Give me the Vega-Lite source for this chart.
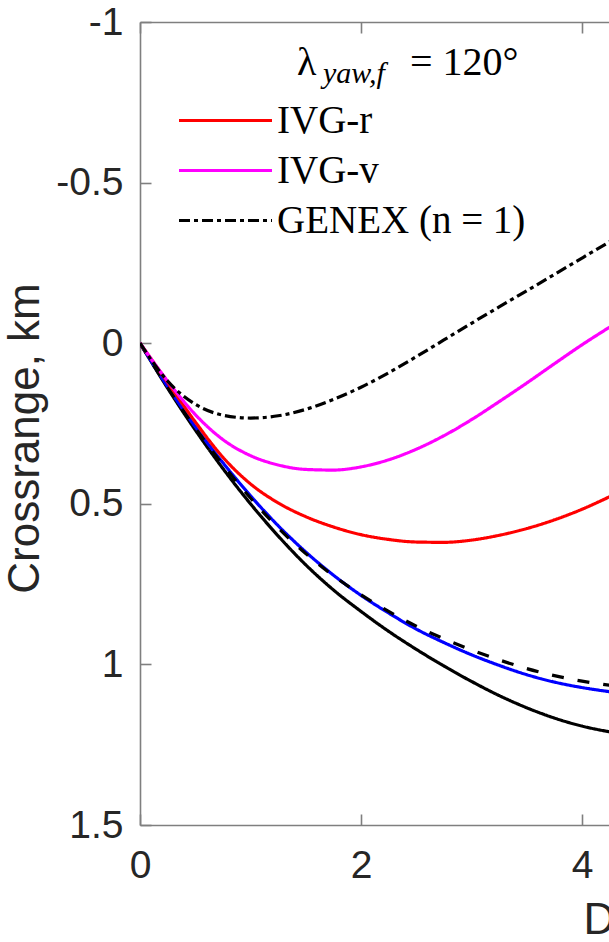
{
  "$schema": "https://vega.github.io/schema/vega-lite/v6.json",
  "width": 469,
  "height": 803,
  "autosize": {"type": "none"},
  "padding": {"left": 140, "top": 22, "right": 0, "bottom": 117},
  "background": "white",
  "config": {
    "view": {"stroke": null},
    "axis": {
      "grid": false,
      "domainColor": "#7f7f7f",
      "domainWidth": 1.6,
      "tickColor": "#7f7f7f",
      "tickWidth": 1.6,
      "tickSize": -11,
      "labelFont": "Liberation Sans",
      "labelFontSize": 39,
      "labelColor": "#262626",
      "labelFlush": false,
      "labelOverlap": false,
      "labelBound": false,
      "titleFont": "Liberation Sans",
      "titleFontSize": 44,
      "titleFontWeight": "normal",
      "titleColor": "#262626"
    }
  },
  "datasets": {
    "curves": [
      {"series": "Black", "downrange": 0, "crossrange": 0},
      {"series": "Black", "downrange": 0.25, "crossrange": 0.14},
      {"series": "Black", "downrange": 0.5, "crossrange": 0.27},
      {"series": "Black", "downrange": 0.75, "crossrange": 0.39},
      {"series": "Black", "downrange": 1.0, "crossrange": 0.5},
      {"series": "Black", "downrange": 1.25, "crossrange": 0.6},
      {"series": "Black", "downrange": 1.5, "crossrange": 0.69},
      {"series": "Black", "downrange": 1.75, "crossrange": 0.768},
      {"series": "Black", "downrange": 2.0, "crossrange": 0.835},
      {"series": "Black", "downrange": 2.25, "crossrange": 0.897},
      {"series": "Black", "downrange": 2.5, "crossrange": 0.953},
      {"series": "Black", "downrange": 2.75, "crossrange": 1.005},
      {"series": "Black", "downrange": 3.0, "crossrange": 1.053},
      {"series": "Black", "downrange": 3.25, "crossrange": 1.097},
      {"series": "Black", "downrange": 3.5, "crossrange": 1.135},
      {"series": "Black", "downrange": 3.75, "crossrange": 1.167},
      {"series": "Black", "downrange": 4.0, "crossrange": 1.192},
      {"series": "Black", "downrange": 4.25, "crossrange": 1.21},
      {"series": "Blue", "downrange": 0, "crossrange": 0},
      {"series": "Blue", "downrange": 0.25, "crossrange": 0.135},
      {"series": "Blue", "downrange": 0.5, "crossrange": 0.26},
      {"series": "Blue", "downrange": 0.75, "crossrange": 0.372},
      {"series": "Blue", "downrange": 1.0, "crossrange": 0.475},
      {"series": "Blue", "downrange": 1.25, "crossrange": 0.568},
      {"series": "Blue", "downrange": 1.5, "crossrange": 0.65},
      {"series": "Blue", "downrange": 1.75, "crossrange": 0.722},
      {"series": "Blue", "downrange": 2.0, "crossrange": 0.785},
      {"series": "Blue", "downrange": 2.25, "crossrange": 0.84},
      {"series": "Blue", "downrange": 2.5, "crossrange": 0.89},
      {"series": "Blue", "downrange": 2.75, "crossrange": 0.932},
      {"series": "Blue", "downrange": 3.0, "crossrange": 0.97},
      {"series": "Blue", "downrange": 3.25, "crossrange": 1.003},
      {"series": "Blue", "downrange": 3.5, "crossrange": 1.032},
      {"series": "Blue", "downrange": 3.75, "crossrange": 1.055},
      {"series": "Blue", "downrange": 4.0, "crossrange": 1.072},
      {"series": "Blue", "downrange": 4.25, "crossrange": 1.085},
      {"series": "Black dashed", "downrange": 0, "crossrange": 0},
      {"series": "Black dashed", "downrange": 0.25, "crossrange": 0.137},
      {"series": "Black dashed", "downrange": 0.5, "crossrange": 0.264},
      {"series": "Black dashed", "downrange": 0.75, "crossrange": 0.378},
      {"series": "Black dashed", "downrange": 1.0, "crossrange": 0.482},
      {"series": "Black dashed", "downrange": 1.25, "crossrange": 0.575},
      {"series": "Black dashed", "downrange": 1.5, "crossrange": 0.655},
      {"series": "Black dashed", "downrange": 1.75, "crossrange": 0.724},
      {"series": "Black dashed", "downrange": 2.0, "crossrange": 0.783},
      {"series": "Black dashed", "downrange": 2.25, "crossrange": 0.835},
      {"series": "Black dashed", "downrange": 2.5, "crossrange": 0.881},
      {"series": "Black dashed", "downrange": 2.75, "crossrange": 0.92},
      {"series": "Black dashed", "downrange": 3.0, "crossrange": 0.955},
      {"series": "Black dashed", "downrange": 3.25, "crossrange": 0.986},
      {"series": "Black dashed", "downrange": 3.5, "crossrange": 1.013},
      {"series": "Black dashed", "downrange": 3.75, "crossrange": 1.035},
      {"series": "Black dashed", "downrange": 4.0, "crossrange": 1.052},
      {"series": "Black dashed", "downrange": 4.25, "crossrange": 1.065},
      {"series": "IVG-r", "downrange": 0, "crossrange": 0},
      {"series": "IVG-r", "downrange": 0.25, "crossrange": 0.122},
      {"series": "IVG-r", "downrange": 0.5, "crossrange": 0.245},
      {"series": "IVG-r", "downrange": 0.75, "crossrange": 0.355},
      {"series": "IVG-r", "downrange": 1.0, "crossrange": 0.438},
      {"series": "IVG-r", "downrange": 1.25, "crossrange": 0.497},
      {"series": "IVG-r", "downrange": 1.5, "crossrange": 0.54},
      {"series": "IVG-r", "downrange": 1.75, "crossrange": 0.572},
      {"series": "IVG-r", "downrange": 2.0, "crossrange": 0.596},
      {"series": "IVG-r", "downrange": 2.25, "crossrange": 0.611},
      {"series": "IVG-r", "downrange": 2.5, "crossrange": 0.619},
      {"series": "IVG-r", "downrange": 2.75, "crossrange": 0.62},
      {"series": "IVG-r", "downrange": 3.0, "crossrange": 0.613},
      {"series": "IVG-r", "downrange": 3.25, "crossrange": 0.598},
      {"series": "IVG-r", "downrange": 3.5, "crossrange": 0.577},
      {"series": "IVG-r", "downrange": 3.75, "crossrange": 0.55},
      {"series": "IVG-r", "downrange": 4.0, "crossrange": 0.517},
      {"series": "IVG-r", "downrange": 4.25, "crossrange": 0.478},
      {"series": "IVG-v", "downrange": 0, "crossrange": 0},
      {"series": "IVG-v", "downrange": 0.25, "crossrange": 0.118},
      {"series": "IVG-v", "downrange": 0.5, "crossrange": 0.222},
      {"series": "IVG-v", "downrange": 0.75, "crossrange": 0.3},
      {"series": "IVG-v", "downrange": 1.0, "crossrange": 0.35},
      {"series": "IVG-v", "downrange": 1.25, "crossrange": 0.379},
      {"series": "IVG-v", "downrange": 1.5, "crossrange": 0.393},
      {"series": "IVG-v", "downrange": 1.75, "crossrange": 0.395},
      {"series": "IVG-v", "downrange": 2.0, "crossrange": 0.385},
      {"series": "IVG-v", "downrange": 2.25, "crossrange": 0.363},
      {"series": "IVG-v", "downrange": 2.5, "crossrange": 0.33},
      {"series": "IVG-v", "downrange": 2.75, "crossrange": 0.288},
      {"series": "IVG-v", "downrange": 3.0, "crossrange": 0.238},
      {"series": "IVG-v", "downrange": 3.25, "crossrange": 0.182},
      {"series": "IVG-v", "downrange": 3.5, "crossrange": 0.124},
      {"series": "IVG-v", "downrange": 3.75, "crossrange": 0.064},
      {"series": "IVG-v", "downrange": 4.0, "crossrange": 0.005},
      {"series": "IVG-v", "downrange": 4.25, "crossrange": -0.05},
      {"series": "GENEX (n = 1)", "downrange": 0, "crossrange": 0},
      {"series": "GENEX (n = 1)", "downrange": 0.25, "crossrange": 0.118},
      {"series": "GENEX (n = 1)", "downrange": 0.5, "crossrange": 0.19},
      {"series": "GENEX (n = 1)", "downrange": 0.75, "crossrange": 0.224},
      {"series": "GENEX (n = 1)", "downrange": 1.0, "crossrange": 0.233},
      {"series": "GENEX (n = 1)", "downrange": 1.25, "crossrange": 0.226},
      {"series": "GENEX (n = 1)", "downrange": 1.5, "crossrange": 0.206},
      {"series": "GENEX (n = 1)", "downrange": 1.75, "crossrange": 0.175},
      {"series": "GENEX (n = 1)", "downrange": 2.0, "crossrange": 0.137},
      {"series": "GENEX (n = 1)", "downrange": 2.25, "crossrange": 0.092},
      {"series": "GENEX (n = 1)", "downrange": 2.5, "crossrange": 0.042},
      {"series": "GENEX (n = 1)", "downrange": 2.75, "crossrange": -0.01},
      {"series": "GENEX (n = 1)", "downrange": 3.0, "crossrange": -0.062},
      {"series": "GENEX (n = 1)", "downrange": 3.25, "crossrange": -0.113},
      {"series": "GENEX (n = 1)", "downrange": 3.5, "crossrange": -0.163},
      {"series": "GENEX (n = 1)", "downrange": 3.75, "crossrange": -0.214},
      {"series": "GENEX (n = 1)", "downrange": 4.0, "crossrange": -0.265},
      {"series": "GENEX (n = 1)", "downrange": 4.25, "crossrange": -0.316}
    ]
  },
  "resolve": {"axis": {"x": "independent", "y": "independent"}},
  "layer": [
    {
      "data": {"name": "curves"},
      "mark": {"type": "line", "strokeWidth": 3.2, "clip": true, "interpolate": "monotone"},
      "encoding": {
        "x": {
          "field": "downrange", "type": "quantitative",
          "scale": {"domain": [0, 4.2443], "nice": false, "zero": false},
          "axis": {
            "orient": "bottom", "values": [0, 2, 4], "labelPadding": 32,
            "title": "Downrange, km", "titleX": 443, "titleY": 108,
            "titleAlign": "left", "titleBaseline": "alphabetic", "titleAnchor": "start"
          }
        },
        "y": {
          "field": "crossrange", "type": "quantitative",
          "scale": {"domain": [-1, 1.5], "reverse": true, "nice": false, "zero": false},
          "axis": {
            "orient": "left",
            "values": [-1, -0.5, 0, 0.5, 1, 1.5], "labelPadding": 28,
            "labelExpr": "datum.value + ''",
            "title": "Crossrange, km", "titleX": -102, "titleY": 416,
            "titleBaseline": "alphabetic", "titleAlign": "center", "titleAngle": 270
          }
        },
        "color": {
          "field": "series", "type": "nominal",
          "scale": {
            "domain": ["IVG-r", "IVG-v", "GENEX (n = 1)", "Black", "Blue", "Black dashed"],
            "range": ["#ff0000", "#ff00ff", "#000000", "#000000", "#0000ff", "#000000"]
          },
          "legend": {
            "values": ["IVG-r", "IVG-v", "GENEX (n = 1)"],
            "title": null, "orient": "none", "legendX": 66, "legendY": 79,
            "symbolType": "M-3,0H3", "symbolSize": 961, "symbolStrokeWidth": 3,
            "labelFont": "Liberation Serif", "labelFontSize": 39, "labelColor": "#000000",
            "labelOffset": 32, "rowPadding": 10, "labelLimit": 400
          }
        },
        "strokeDash": {
          "field": "series", "type": "nominal",
          "scale": {
            "domain": ["IVG-r", "IVG-v", "GENEX (n = 1)", "Black", "Blue", "Black dashed"],
            "range": [[1, 0], [1, 0], [11, 4, 4, 4], [1, 0], [1, 0], [12, 14]]
          },
          "legend": {
            "values": ["IVG-r", "IVG-v", "GENEX (n = 1)"],
            "title": null, "orient": "none", "legendX": 66, "legendY": 79,
            "symbolType": "M-3,0H3", "symbolSize": 961, "symbolStrokeWidth": 3,
            "labelFont": "Liberation Serif", "labelFontSize": 39, "labelColor": "#000000",
            "labelOffset": 32, "rowPadding": 10, "labelLimit": 400
          }
        }
      }
    },
    {
      "data": {"name": "curves"},
      "mark": {"type": "point", "opacity": 0},
      "encoding": {
        "x": {
          "field": "downrange", "type": "quantitative",
          "axis": {"orient": "top", "values": [0, 2, 4], "labels": false, "title": null}
        },
        "y": {"field": "crossrange", "type": "quantitative", "axis": null}
      }
    },
    {
      "data": {"values": [{}]},
      "mark": {"type": "text", "text": "λ", "font": "Liberation Serif", "fontSize": 40, "align": "left", "baseline": "alphabetic", "color": "#000000"},
      "encoding": {
        "x": {"datum": 1.421, "type": "quantitative", "axis": null},
        "y": {"datum": -0.835, "type": "quantitative", "axis": null}
      }
    },
    {
      "data": {"values": [{}]},
      "mark": {"type": "text", "text": "yaw,f", "font": "Liberation Serif", "fontStyle": "italic", "fontSize": 30, "align": "left", "baseline": "alphabetic", "color": "#000000"},
      "encoding": {
        "x": {"datum": 1.656, "type": "quantitative", "axis": null},
        "y": {"datum": -0.81, "type": "quantitative", "axis": null}
      }
    },
    {
      "data": {"values": [{}]},
      "mark": {"type": "text", "text": "= 120°", "font": "Liberation Serif", "fontSize": 40, "align": "left", "baseline": "alphabetic", "color": "#000000"},
      "encoding": {
        "x": {"datum": 2.443, "type": "quantitative", "axis": null},
        "y": {"datum": -0.835, "type": "quantitative", "axis": null}
      }
    }
  ]
}
